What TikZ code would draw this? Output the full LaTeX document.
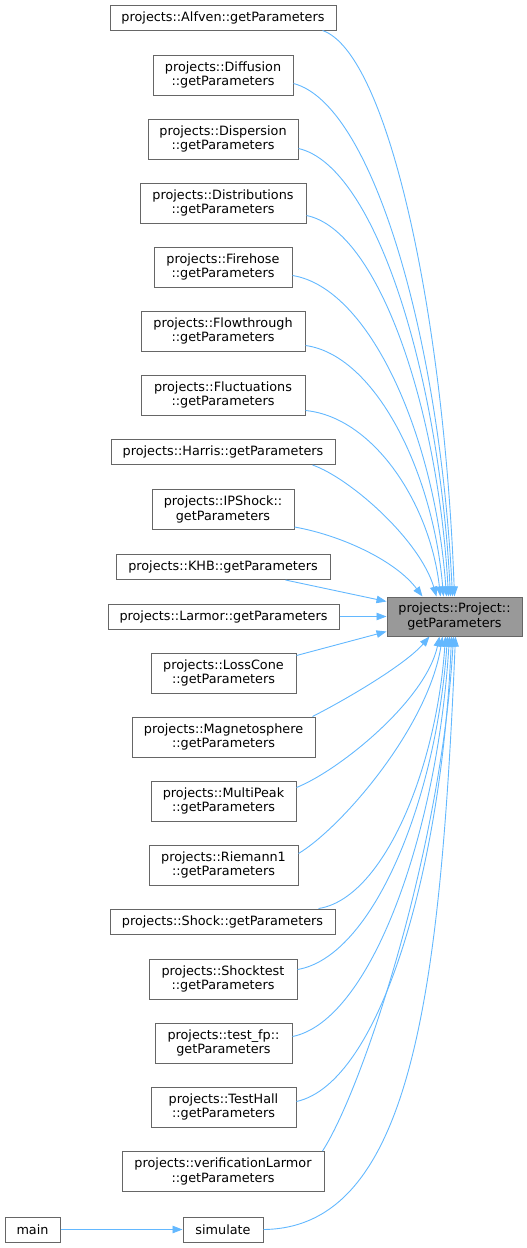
\documentclass[tikz,border=0pt]{standalone}
\usepackage{fontspec}
\setmainfont{DejaVu Sans}
\usetikzlibrary{arrows.meta}
\definecolor{edgeblue}{HTML}{63B8FF}
\definecolor{boxline}{HTML}{666666}
\definecolor{hilite}{HTML}{999999}
\begin{document}
\begin{tikzpicture}[x=1pt,y=-1pt,
  fn/.style={draw=boxline, line width=1pt, fill=white, inner sep=0pt, align=center,
             font=\fontsize{12.8}{14.3}\selectfont, text=black},
  one/.style={fn, minimum height=25pt},
  two/.style={fn, minimum height=40pt},
  hl/.style={two, fill=hilite},
  call/.style={draw=edgeblue, line width=0.9pt, -{Triangle[length=10pt,width=7.5pt]}}]
\useasboundingbox (0,0) rectangle (527,1248);

\node[one, minimum width=226pt] (alfven) at (223,17.5) {projects::Alfven::getParameters};
\node[two, minimum width=140pt] (diffusion) at (223,75) {projects::Diffusion\\::getParameters};
\node[two, minimum width=150pt] (dispersion) at (223,139) {projects::Dispersion\\::getParameters};
\node[two, minimum width=166pt] (distributions) at (223,203) {projects::Distributions\\::getParameters};
\node[two, minimum width=138pt] (firehose) at (223,267) {projects::Firehose\\::getParameters};
\node[two, minimum width=164pt] (flowthrough) at (223,331) {projects::Flowthrough\\::getParameters};
\node[two, minimum width=164pt] (fluctuations) at (223,395) {projects::Fluctuations\\::getParameters};
\node[one, minimum width=224pt] (harris) at (223,452) {projects::Harris::getParameters};
\node[two, minimum width=142pt] (ipshock) at (223,509.5) {projects::IPShock::\\getParameters};
\node[one, minimum width=214pt] (khb) at (223,567) {projects::KHB::getParameters};
\node[one, minimum width=231pt] (larmor) at (223.5,616.5) {projects::Larmor::getParameters};
\node[two, minimum width=145pt] (losscone) at (223.5,673) {projects::LossCone\\::getParameters};
\node[two, minimum width=183pt] (magneto) at (223.5,737) {projects::Magnetosphere\\::getParameters};
\node[two, minimum width=145pt] (multipeak) at (223.5,801) {projects::MultiPeak\\::getParameters};
\node[two, minimum width=149pt] (riemann) at (223.5,865) {projects::Riemann1\\::getParameters};
\node[one, minimum width=225pt] (shock) at (222.5,921.5) {projects::Shock::getParameters};
\node[two, minimum width=148pt] (shocktest) at (223,979) {projects::Shocktest\\::getParameters};
\node[two, minimum width=137pt] (testfp) at (223.5,1043) {projects::test\_fp::\\getParameters};
\node[two, minimum width=145pt] (testhall) at (223.5,1107) {projects::TestHall\\::getParameters};
\node[two, minimum width=202pt] (verif) at (223,1171.5) {projects::verificationLarmor\\::getParameters};
\node[one, minimum width=55pt] (main) at (32.5,1229.5) {main};
\node[one, minimum width=80pt] (simulate) at (223,1229.5) {simulate};
\node[hl, minimum width=135pt, minimum height=39pt] (tgt) at (454.5,616.5) {projects::Project::\\getParameters};

\draw[call] ([xshift=-14pt]alfven.south east) .. controls (388,53) and (444,314) .. ([xshift=68pt]tgt.north west);
\draw[call] ([yshift=12pt]diffusion.south east) .. controls (373,104) and (440,340) .. ([xshift=66pt]tgt.north west);
\draw[call] ([yshift=11pt]dispersion.south east) .. controls (375,166) and (439,372) .. ([xshift=64pt]tgt.north west);
\draw[call] ([yshift=8pt]distributions.south east) .. controls (378,230) and (438,406) .. ([xshift=62pt]tgt.north west);
\draw[call] ([yshift=12pt]firehose.south east) .. controls (370,288) and (435,436) .. ([xshift=60pt]tgt.north west);
\draw[call] ([yshift=6pt]flowthrough.south east) .. controls (375,355) and (433,471) .. ([xshift=57pt]tgt.north west);
\draw[call] ([yshift=5pt]fluctuations.south east) .. controls (373,417) and (430,503) .. ([xshift=54pt]tgt.north west);
\draw[call] ([xshift=-23pt]harris.south east) .. controls (350,478) and (420,540) .. ([xshift=50pt]tgt.north west);
\draw[call] ([yshift=3pt]ipshock.south east) .. controls (340,535) and (395,560) .. ([xshift=36pt]tgt.north west);
\draw[call] ([xshift=-45pt]khb.south east) -- ([yshift=-5pt]tgt.north west);
\draw[call] (larmor.east) -- (larmor.east -| tgt.west);
\draw[call] ([yshift=-3pt]losscone.north east) -- ([yshift=5pt]tgt.south west);
\draw[call] ([xshift=-3pt]magneto.north east) .. controls (345,700) and (405,665) .. ([xshift=43pt]tgt.south west);
\draw[call] ([yshift=-7pt]multipeak.north east) .. controls (340,770) and (426,700) .. ([xshift=53pt]tgt.south west);
\draw[call] ([yshift=-9pt]riemann.north east) .. controls (341,828) and (428,728) .. ([xshift=56pt]tgt.south west);
\draw[call] ([xshift=-17pt]shock.north east) .. controls (382,899) and (436,773) .. ([xshift=59pt]tgt.south west);
\draw[call] ([yshift=-11pt]shocktest.north east) .. controls (372,957) and (436,803) .. ([xshift=61pt]tgt.south west);
\draw[call] ([yshift=-14pt]testfp.north east) .. controls (370,1021) and (437,837) .. ([xshift=63pt]tgt.south west);
\draw[call] ([yshift=-15pt]testhall.north east) .. controls (380,1083) and (442,869) .. ([xshift=65pt]tgt.south west);
\draw[call] ([xshift=-2pt]verif.north east) .. controls (362,1090) and (441,853) .. ([xshift=67pt]tgt.south west);
\draw[call] (simulate.east) .. controls (410,1228) and (440,1000) .. ([xshift=69pt]tgt.south west);
\draw[call] (main.east) -- (simulate.west);
\end{tikzpicture}
\end{document}
